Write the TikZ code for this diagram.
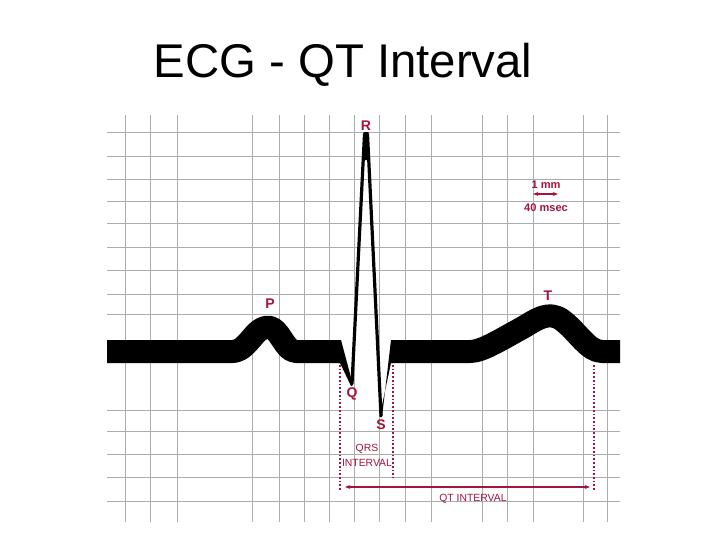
\documentclass[tikz,border=0pt]{standalone}
\usepackage{fontspec}
\setmainfont{Liberation Sans}
\usetikzlibrary{arrows.meta}
\definecolor{ecgred}{RGB}{165,20,60}
\definecolor{gridgray}{RGB}{172,172,172}
\begin{document}
\begin{tikzpicture}[x=0.75pt,y=-0.75pt,
  gridline/.style={draw=gridgray,line width=0.75pt},
  band/.style={draw=black,line width=17.25pt,line cap=butt,line join=round},
  spike/.style={draw=black,line width=2.4pt,line join=round},
  wavelabel/.style={text=ecgred,font=\bfseries\fontsize{10.5}{12}\selectfont,inner sep=0pt},
  smalllabel/.style={text=ecgred,font=\bfseries\fontsize{8.3}{10}\selectfont,inner sep=0pt},
  intlabel/.style={text=ecgred,font=\fontsize{7.8}{9}\selectfont,inner sep=0pt},
  dotline/.style={draw=ecgred,line width=1.3pt,dash pattern=on 1.3pt off 1.5pt},
  intarrow/.style={draw=ecgred,line width=0.8pt,{Stealth[length=4pt,width=3pt]}-{Stealth[length=4pt,width=3pt]}}]
\useasboundingbox (0,0) rectangle (720,540);
\fill[white] (0,0) rectangle (720,540);
% title
\node[font=\fontsize{35.5}{40}\selectfont,anchor=base,inner sep=0pt] (title) at (343,77) {ECG - QT Interval};
% grid
\foreach \gx in {125,150,177,252,279,304,329,354,379,405,431,482,507,533,583,607}
  \draw[gridline] (\gx,115) -- (\gx,522);
\foreach \gy in {132,156,179,201,223,247,270,294,314,410,431,454,477,501}
  \draw[gridline] (107,\gy) -- (620,\gy);
% ECG trace
\draw[band] (107,351.5) -- (232,351.5) .. controls (248,351.5) and (254,327) .. (268,327)
  .. controls (280,327) and (284,351.5) .. (296,351.5) -- (340,351.5);
\fill (338,340) -- (341,340) -- (353,385) -- (351,386) -- (340,363) -- (338,363) -- cycle;
\draw[spike] (352,384) -- (364.5,134) -- (367.5,134) -- (381,416);
\fill (363.5,132) -- (368.5,132) -- (368,160) -- (364,160) -- cycle;
\fill (379.5,417) -- (382,417) -- (391,340) -- (393,340) -- (393,363) -- (391,363) -- cycle;
\draw[band] (392,351.5) -- (470,351.5) .. controls (482,351.5) and (500,340) .. (522,328)
  .. controls (536,320) and (548,310) .. (562,320) .. controls (578,332) and (588,351.5) .. (602,351.5) -- (620,351.5);
% wave labels
\node[wavelabel] (R) at (366,126) {R};
\node[wavelabel] (P) at (270,304) {P};
\node[wavelabel] (T) at (548,296) {T};
\node[wavelabel] (Q) at (352,394) {Q};
\node[wavelabel] (S) at (381,425) {S};
% scale
\node[smalllabel] (mm) at (546,185) {1 mm};
\coordinate (sa) at (533,194);
\coordinate (sb) at (558,194);
\draw[intarrow] (sa) -- (sb);
\node[smalllabel] (ms) at (546,208) {40 msec};
% interval markers
\coordinate (d1t) at (340,365); \coordinate (d1b) at (340,490);
\coordinate (d2t) at (393,365); \coordinate (d2b) at (393,478);
\coordinate (d3t) at (594,365); \coordinate (d3b) at (594,490);
\draw[dotline] (d1t) -- (d1b);
\draw[dotline] (d2t) -- (d2b);
\draw[dotline] (d3t) -- (d3b);
\coordinate (qa) at (345,487);
\coordinate (qb) at (590,487);
\draw[intarrow] (qa) -- (qb);
\node[intlabel] (qrs1) at (367,449) {QRS};
\node[intlabel] (qrs2) at (367,462.5) {INTERVAL};
\node[intlabel] (qt) at (473,499) {QT INTERVAL};
\end{tikzpicture}
\end{document}
